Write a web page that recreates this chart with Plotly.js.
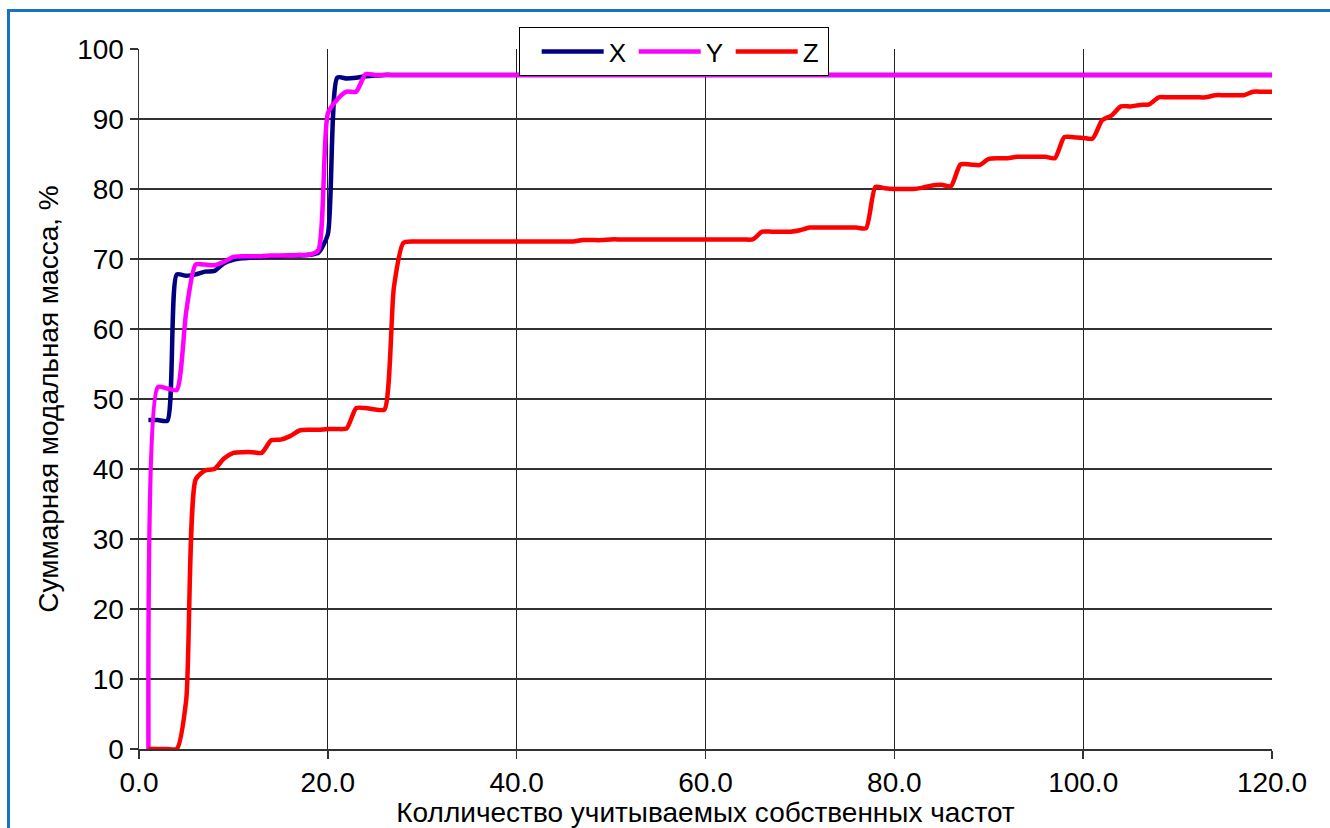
<!DOCTYPE html>
<html>
<head>
<meta charset="utf-8">
<script src="https://cdn.plot.ly/plotly-3.0.1.min.js"></script>
<style>
  html, body { margin: 0; padding: 0; background: #ffffff; }
  #wrap { position: relative; width: 1330px; height: 828px; overflow: hidden; }
  #chart { position: absolute; left: 0; top: 0; width: 1330px; height: 828px; }
  #frame { position: absolute; left: 7px; top: 9px; width: 2000px; height: 2000px;
           border-left: 3px solid #1874c0; border-top: 3px solid #1874c0; pointer-events: none; }
</style>
</head>
<body>
<div id="wrap">
  <div id="chart"></div>
  <div id="frame"></div>
</div>
<script>
// Mode count (number of eigenfrequencies taken into account)
const modes = [
  1,2,3,4,5,6,7,8,9,10,11,12,13,14,15,16,17,18,19,20,
  21,22,23,24,25,26,27,28,29,30,31,32,33,34,35,36,37,38,39,40,
  41,42,43,44,45,46,47,48,49,50,51,52,53,54,55,56,57,58,59,60,
  61,62,63,64,65,66,67,68,69,70,71,72,73,74,75,76,77,78,79,80,
  81,82,83,84,85,86,87,88,89,90,91,92,93,94,95,96,97,98,99,100,
  101,102,103,104,105,106,107,108,109,110,111,112,113,114,115,116,117,118,119,120
];

// Cumulative modal mass, % — direction X
const massX = [
  47.0,47.0,46.9,67.8,67.6,67.8,68.2,68.3,69.4,69.9,70.1,70.2,70.3,70.4,70.4,70.5,70.5,70.6,70.9,73.5,
  95.9,95.8,95.9,96.1,96.2,96.3,96.3,96.3,96.3,96.3,96.3,96.3,96.3,96.3,96.3,96.3,96.3,96.3,96.3,96.3,
  96.3,96.3,96.3,96.3,96.3,96.3,96.3,96.3,96.3,96.3,96.3,96.3,96.3,96.3,96.3,96.3,96.3,96.3,96.3,96.3,
  96.3,96.3,96.3,96.3,96.3,96.3,96.3,96.3,96.3,96.3,96.3,96.3,96.3,96.3,96.3,96.3,96.3,96.3,96.3,96.3,
  96.3,96.3,96.3,96.3,96.3,96.3,96.3,96.3,96.3,96.3,96.3,96.3,96.3,96.3,96.3,96.3,96.3,96.3,96.3,96.3,
  96.3,96.3,96.3,96.3,96.3,96.3,96.3,96.3,96.3,96.3,96.3,96.3,96.3,96.3,96.3,96.3,96.3,96.3,96.3,96.3
];

// Cumulative modal mass, % — direction Y
const massY = [
  0.0,51.7,51.5,51.3,62.5,69.2,69.2,69.1,69.6,70.3,70.4,70.4,70.4,70.5,70.5,70.5,70.6,70.6,71.3,90.8,
  92.8,93.9,93.9,96.4,96.3,96.3,96.3,96.3,96.3,96.3,96.3,96.3,96.3,96.3,96.3,96.3,96.3,96.3,96.3,96.3,
  96.3,96.3,96.3,96.3,96.3,96.3,96.3,96.3,96.3,96.3,96.3,96.3,96.3,96.3,96.3,96.3,96.3,96.3,96.3,96.3,
  96.3,96.3,96.3,96.3,96.3,96.3,96.3,96.3,96.3,96.3,96.3,96.3,96.3,96.3,96.3,96.3,96.3,96.3,96.3,96.3,
  96.3,96.3,96.3,96.3,96.3,96.3,96.3,96.3,96.3,96.3,96.3,96.3,96.3,96.3,96.3,96.3,96.3,96.3,96.3,96.3,
  96.3,96.3,96.3,96.3,96.3,96.3,96.3,96.3,96.3,96.3,96.3,96.3,96.3,96.3,96.3,96.3,96.3,96.3,96.3,96.3
];

// Cumulative modal mass, % — direction Z
const massZ = [
  0.0,0.0,0.0,0.0,7.0,38.5,39.8,40.0,41.5,42.3,42.4,42.4,42.3,44.1,44.2,44.7,45.5,45.6,45.6,45.7,
  45.7,45.8,48.7,48.7,48.5,48.5,66.0,72.3,72.5,72.5,72.5,72.5,72.5,72.5,72.5,72.5,72.5,72.5,72.5,72.5,
  72.5,72.5,72.5,72.5,72.5,72.5,72.7,72.7,72.7,72.8,72.8,72.8,72.8,72.8,72.8,72.8,72.8,72.8,72.8,72.8,
  72.8,72.8,72.8,72.8,72.8,73.9,73.9,73.9,73.9,74.1,74.5,74.5,74.5,74.5,74.5,74.5,74.4,80.3,80.1,80.0,
  80.0,80.0,80.2,80.5,80.6,80.4,83.5,83.5,83.4,84.3,84.4,84.4,84.6,84.6,84.6,84.6,84.4,87.4,87.4,87.3,
  87.2,89.8,90.5,91.8,91.8,92.0,92.1,93.1,93.1,93.1,93.1,93.1,93.1,93.4,93.4,93.4,93.4,93.9,93.9,93.9
];

const seriesNames = ['X', 'Y', 'Z'];
const seriesColors = ['#000080', '#ff00ff', '#ff0000'];
const seriesData = [massX, massY, massZ];

const xTickVals = [0, 20, 40, 60, 80, 100, 120];
const xTickText = ['0.0', '20.0', '40.0', '60.0', '80.0', '100.0', '120.0'];
const xGridVals = [20, 40, 60, 80, 100];
const yTickVals = [0, 10, 20, 30, 40, 50, 60, 70, 80, 90, 100];
const yGridVals = [0, 10, 20, 30, 40, 50, 60, 70, 80, 90];

const xTitle = 'Колличество учитываемых собственных частот';
const yTitle = 'Суммарная модальная масса, %';

const FONT = 'Liberation Sans, Arial, sans-serif';

const traces = seriesData.map((vals, i) => ({
  type: 'scatter',
  mode: 'lines',
  name: seriesNames[i],
  x: modes,
  y: vals,
  line: { color: seriesColors[i], width: 4.5, shape: 'spline', smoothing: 0.6 },
  xaxis: 'x',
  yaxis: 'y'
}));

// invisible helper trace to activate the grid-only overlay axes
traces.unshift({
  type: 'scatter', mode: 'lines', x: [], y: [], xaxis: 'x2', yaxis: 'y2',
  showlegend: false, hoverinfo: 'skip'
});

const layout = {
  width: 1330,
  height: 828,
  margin: { l: 139, r: 58, t: 49, b: 79, pad: 0 },
  paper_bgcolor: '#ffffff',
  plot_bgcolor: 'rgba(0,0,0,0)',
  font: { family: FONT, size: 28, color: '#000000' },
  showlegend: true,
  legend: {
    orientation: 'h',
    x: 0.3354, xanchor: 'left',
    y: 1.0314, yanchor: 'top',
    bgcolor: '#ffffff',
    bordercolor: '#000000',
    borderwidth: 1,
    font: { family: FONT, size: 26, color: '#000000' },
    title: { text: '\u00a0', side: 'left', font: { family: FONT, size: 24 } },
    entrywidth: 20,
    entrywidthmode: 'pixels',
    itemwidth: 62,
    tracegroupgap: 0
  },
  xaxis: {
    range: [0, 120],
    tickvals: xTickVals,
    ticktext: xTickText,
    showgrid: false,
    zeroline: false,
    showline: true,
    linecolor: '#333333',
    linewidth: 1.5,
    ticks: 'outside',
    ticklen: 8,
    tickwidth: 1.5,
    tickcolor: '#333333',
    tickfont: { family: FONT, size: 28 },
    title: { text: xTitle, font: { family: FONT, size: 28 }, standoff: 3 },
    fixedrange: true
  },
  yaxis: {
    range: [0, 100],
    tickvals: yTickVals,
    showgrid: false,
    zeroline: false,
    showline: true,
    linecolor: '#333333',
    linewidth: 1.5,
    ticks: 'outside',
    ticklen: 8,
    tickwidth: 1.5,
    tickcolor: '#333333',
    tickfont: { family: FONT, size: 28 },
    title: { text: yTitle, font: { family: FONT, size: 28 }, standoff: 10 },
    fixedrange: true
  },
  xaxis2: {
    overlaying: 'x',
    anchor: 'y',
    range: [0, 120],
    tickvals: xGridVals,
    showticklabels: false,
    ticks: '',
    showgrid: true,
    gridcolor: '#222222',
    gridwidth: 1.2,
    zeroline: false,
    showline: false,
    fixedrange: true,
    layer: 'below traces'
  },
  yaxis2: {
    overlaying: 'y',
    anchor: 'x',
    range: [0, 100],
    tickvals: yGridVals,
    showticklabels: false,
    ticks: '',
    showgrid: true,
    gridcolor: '#333333',
    gridwidth: 1.8,
    zeroline: false,
    showline: false,
    fixedrange: true,
    layer: 'below traces'
  }
};

Plotly.newPlot('chart', traces, layout, { displayModeBar: false, staticPlot: true });
</script>
</body>
</html>
